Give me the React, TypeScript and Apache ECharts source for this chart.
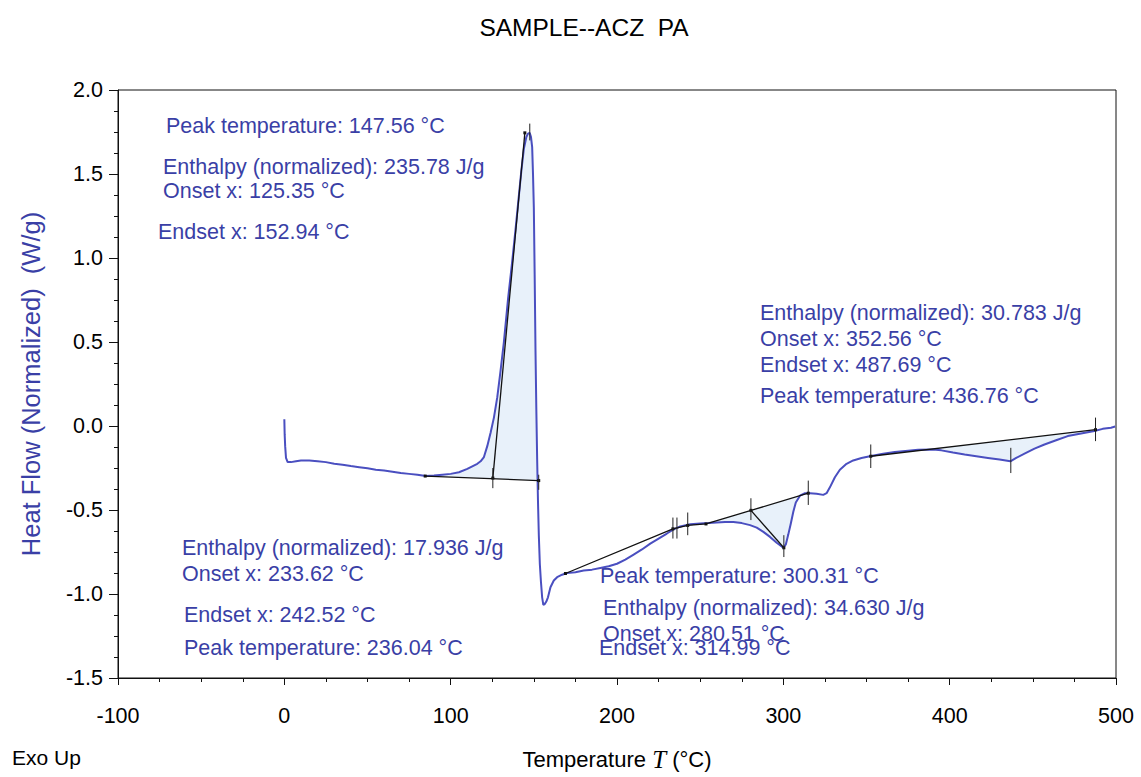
import React, { useEffect, useRef } from "react";
import * as echarts from "echarts";

// DSC curve (temperature °C, normalized heat flow W/g)
const tempC = [
  0, 0.2, 0.5, 1, 2, 4, 7, 10, 15, 20, 25, 30, 35, 40, 45, 50, 55, 60, 65, 70, 75, 80, 85, 90, 95, 100,
  105, 110, 113, 116, 118, 120, 122, 124, 126, 128, 130, 132, 134.5, 137, 139, 140.8, 142.5, 144, 145.5,
  146.5, 147.5, 148.3, 149, 149.5, 150, 150.5, 151, 151.5, 152, 152.5, 153, 153.6, 154.3, 155, 155.7,
  156.5, 157.5, 158.5, 160, 162, 164, 167, 170, 175, 180, 185, 190, 195, 200, 205, 210, 215, 220, 225,
  230, 234, 238, 244, 250, 255, 260, 265, 270, 275, 280, 284, 288, 292, 296, 300, 301.5, 303, 304.5, 306,
  307.5, 310, 313, 316, 320, 324, 326, 328, 331, 334, 338, 342, 347, 352, 360, 367, 375, 381, 390, 395,
  402, 409, 416, 423, 430, 436.5, 440, 445, 451, 457, 464, 471, 479, 487, 492, 497, 499.5,
];
const heatFlow = [
  0.04, -0.05, -0.12, -0.19, -0.215, -0.215, -0.21, -0.205, -0.205, -0.21, -0.215, -0.225, -0.23, -0.238,
  -0.245, -0.252, -0.26, -0.265, -0.272, -0.28, -0.285, -0.29, -0.298, -0.295, -0.29, -0.285, -0.275,
  -0.255, -0.24, -0.225, -0.21, -0.185, -0.12, -0.04, 0.05, 0.17, 0.33, 0.5, 0.757, 0.98, 1.17, 1.35,
  1.52, 1.65, 1.72, 1.74, 1.745, 1.72, 1.66, 1.5, 1.3, 0.9, 0.45, 0.1, -0.2, -0.45, -0.65, -0.82, -0.93,
  -1.02, -1.065, -1.06, -1.045, -1.02, -0.96, -0.92, -0.9, -0.885, -0.875, -0.87, -0.86, -0.855, -0.845,
  -0.835, -0.82, -0.795, -0.765, -0.735, -0.7, -0.67, -0.64, -0.615, -0.598, -0.585, -0.58, -0.578,
  -0.575, -0.572, -0.572, -0.578, -0.59, -0.605, -0.63, -0.66, -0.695, -0.725, -0.705, -0.645, -0.58,
  -0.51, -0.455, -0.415, -0.4, -0.4, -0.403, -0.41, -0.4, -0.365, -0.305, -0.26, -0.225, -0.205, -0.19,
  -0.18, -0.165, -0.155, -0.147, -0.142, -0.14, -0.145, -0.158, -0.17, -0.18, -0.19, -0.2, -0.21, -0.19,
  -0.165, -0.135, -0.11, -0.085, -0.06, -0.045, -0.03, -0.017, -0.01, -0.003,
];

// Integration baselines and tangents
const baseline1T = [84.7, 152.94];
const baseline1H = [-0.298, -0.325];
const tangent1T = [125.35, 144.6];
const tangent1H = [-0.31, 1.745];
const baseline2T = [169, 233.62, 242.52, 253.5, 314.99];
const baseline2H = [-0.878, -0.612, -0.592, -0.583, -0.4];
const tangent3T = [280.51, 300.31];
const tangent3H = [-0.502, -0.725];
const baseline4T = [352.56, 487.69];
const baseline4H = [-0.18, -0.022];

// Shaded integration regions (between curve and baseline)
const fillStartT = [84.7, 253.5, 352.56];
const fillEndT = [152.3, 314.99, 487.69];
const fillStartH = [-0.298, -0.583, -0.18];
const fillEndH = [-0.324, -0.4, -0.022];

// Vertical marker ticks (onset / peak / endset)
const markerT = [125.35, 147.56, 152.94, 233.62, 236.04, 242.52, 280.51, 300.31, 314.99, 352.56, 436.76, 487.69];
const markerLow = [-0.37, 1.7, -0.38, -0.67, -0.67, -0.65, -0.56, -0.78, -0.47, -0.25, -0.28, -0.09];
const markerHigh = [-0.25, 1.8, -0.29, -0.545, -0.545, -0.515, -0.43, -0.65, -0.325, -0.11, -0.13, 0.05];

// Annotation texts
const annotationsPeak1 = [
  "Peak temperature: 147.56 °C",
  "Enthalpy (normalized): 235.78 J/g",
  "Onset x: 125.35 °C",
  "Endset x: 152.94 °C",
];
const annotationsPeak4 = [
  "Enthalpy (normalized): 30.783 J/g",
  "Onset x: 352.56 °C",
  "Endset x: 487.69 °C",
  "Peak temperature: 436.76 °C",
];
const annotationsPeak2 = [
  "Enthalpy (normalized): 17.936 J/g",
  "Onset x: 233.62 °C",
  "Endset x: 242.52 °C",
  "Peak temperature: 236.04 °C",
];
const annotationsPeak3 = [
  "Peak temperature: 300.31 °C",
  "Enthalpy (normalized): 34.630 J/g",
  "Onset x: 280.51 °C",
  "Endset x: 314.99 °C",
];

const BLUE_TEXT = "#3a3fa6";
const CURVE = "#4a4fc0";
const FONT = '"Liberation Sans", Arial, sans-serif';

function interp(t: number): number {
  for (let k = 0; k < tempC.length - 1; k++) {
    if (t >= tempC[k] && t <= tempC[k + 1]) {
      const f = (t - tempC[k]) / (tempC[k + 1] - tempC[k]);
      return heatFlow[k] + f * (heatFlow[k + 1] - heatFlow[k]);
    }
  }
  return heatFlow[heatFlow.length - 1];
}

function textBlock(lines: string[], xs: number[], ys: number[]) {
  return lines.map((t, i) => ({
    type: "text",
    x: xs[i],
    y: ys[i],
    silent: true,
    style: {
      text: t,
      fill: BLUE_TEXT,
      font: `21.5px ${FONT}`,
      verticalAlign: "middle",
      align: "left",
    },
  }));
}

export default function App() {
  const ref = useRef<HTMLDivElement>(null);
  useEffect(() => {
    if (!ref.current) return;
    const chart = echarts.init(ref.current, null, { renderer: "svg" });
    const curveData = tempC.map((t, i) => [t, heatFlow[i]]);
    const lineStyleBlack = { color: "#111", width: 1.3 };
    const mkLine = (ts: number[], hs: number[]) => ({
      type: "line",
      data: ts.map((t, i) => [t, hs[i]]),
      showSymbol: true,
      symbol: "rect",
      symbolSize: 3,
      itemStyle: { color: "#111" },
      lineStyle: lineStyleBlack,
      z: 4,
      silent: true,
    });

    const option: any = {
      animation: false,
      backgroundColor: "#fff",
      grid: { left: 118, right: 25, top: 90, bottom: 94, show: true, borderColor: "#111", borderWidth: 1 },
      xAxis: {
        type: "value",
        min: -100,
        max: 500,
        interval: 100,
        axisLine: { onZero: false, lineStyle: { color: "#111", width: 1 } },
        axisTick: { length: 7, lineStyle: { color: "#111" } },
        minorTick: { show: true, splitNumber: 4, length: 4, lineStyle: { color: "#111" } },
        splitLine: { show: false },
        axisLabel: { color: "#000", fontSize: 21.5, fontFamily: FONT, margin: 27 },
        name: "Temperature {i|T} (°C)",
        nameLocation: "middle",
        nameGap: 69,
        nameTextStyle: {
          color: "#000",
          fontSize: 22,
          fontFamily: FONT,
          rich: {
            i: { fontFamily: '"Liberation Serif", "DejaVu Serif", serif', fontStyle: "italic", fontSize: 25, color: "#000" },
          },
        },
      },
      yAxis: {
        type: "value",
        min: -1.5,
        max: 2.0,
        interval: 0.5,
        axisLine: { show: true, onZero: false, lineStyle: { color: "#111", width: 1 } },
        axisTick: { show: true, length: 9, lineStyle: { color: "#111" } },
        minorTick: { show: true, splitNumber: 4, length: 4, lineStyle: { color: "#111" } },
        splitLine: { show: false },
        axisLabel: {
          color: "#000",
          fontSize: 21.5,
          fontFamily: FONT,
          margin: 15,
          formatter: (v: number) => v.toFixed(1),
        },
      },
      graphic: [
        {
          type: "text",
          x: 584,
          y: 27,
          style: { text: "SAMPLE--ACZ  PA", fill: "#000", font: `24.5px ${FONT}`, align: "center", verticalAlign: "middle" },
        },
        {
          type: "text",
          x: 31,
          y: 384,
          rotation: Math.PI / 2,
          style: {
            text: "Heat Flow (Normalized)  (W/g)",
            fill: BLUE_TEXT,
            font: `25.5px ${FONT}`,
            align: "center",
            verticalAlign: "middle",
          },
        },
        {
          type: "text",
          x: 12,
          y: 757,
          style: { text: "Exo Up", fill: "#000", font: `21px ${FONT}`, align: "left", verticalAlign: "middle" },
        },
        ...textBlock(annotationsPeak1, [166, 163, 163, 158], [126, 167, 191, 232]),
        ...textBlock(annotationsPeak4, [760, 760, 760, 760], [313, 339, 365, 396]),
        ...textBlock(annotationsPeak2, [182, 182, 184, 184], [548, 574, 615, 648]),
        ...textBlock(annotationsPeak3, [600, 603, 603, 599], [576, 608, 634, 648]),
      ],
      series: [
        {
          type: "custom",
          silent: true,
          z: 1,
          data: fillStartT.map((t, i) => [t, fillStartH[i]]),
          renderItem: (params: any, api: any) => {
            const i = params.dataIndex;
            const t0 = fillStartT[i];
            const t1 = fillEndT[i];
            const pts: number[][] = [api.coord([t0, interp(t0)])];
            for (let k = 0; k < tempC.length; k++) {
              if (tempC[k] > t0 && tempC[k] < t1) pts.push(api.coord([tempC[k], heatFlow[k]]));
            }
            pts.push(api.coord([t1, interp(t1)]));
            pts.push(api.coord([t1, fillEndH[i]]));
            pts.push(api.coord([t0, fillStartH[i]]));
            return { type: "polygon", shape: { points: pts }, style: { fill: "#e8f1fa", stroke: null } };
          },
        },
        {
          type: "line",
          data: curveData,
          showSymbol: false,
          lineStyle: { color: CURVE, width: 2 },
          z: 3,
          silent: true,
        },
        mkLine(baseline1T, baseline1H),
        mkLine(tangent1T, tangent1H),
        mkLine(baseline2T, baseline2H),
        mkLine(tangent3T, tangent3H),
        mkLine(baseline4T, baseline4H),
        {
          type: "custom",
          silent: true,
          z: 5,
          data: markerT.map((t, i) => [t, markerLow[i], markerHigh[i]]),
          encode: { x: 0, y: [1, 2] },
          renderItem: (params: any, api: any) => {
            const a = api.coord([api.value(0), api.value(1)]);
            const b = api.coord([api.value(0), api.value(2)]);
            return {
              type: "line",
              shape: { x1: a[0], y1: a[1], x2: b[0], y2: b[1] },
              style: { stroke: "#222", lineWidth: 1 },
            };
          },
        },
      ],
    };
    chart.setOption(option);
    return () => chart.dispose();
  }, []);
  return <div ref={ref} style={{ position: "absolute", left: 0, top: 0, width: 1141, height: 777 }} />;
}
